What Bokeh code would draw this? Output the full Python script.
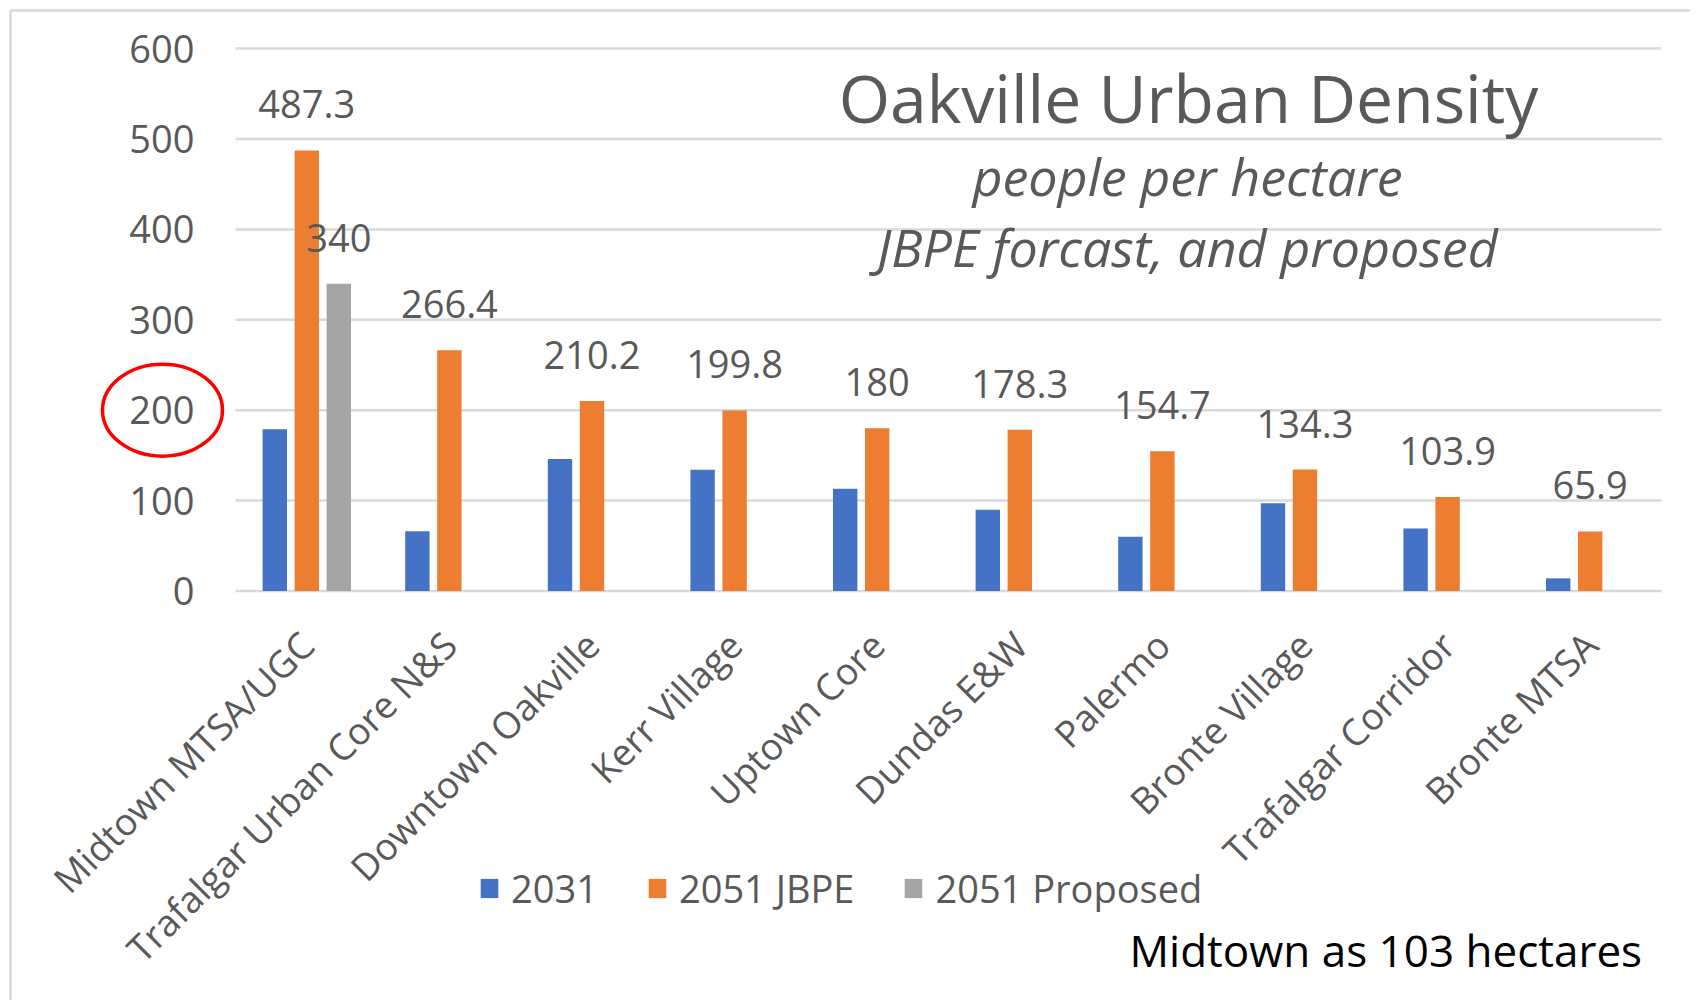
import math
from bokeh.plotting import figure
from bokeh.models import (Range1d, ColumnDataSource, LabelSet, Legend, LegendItem)
from bokeh.core.properties import value
from bokeh.embed import file_html
from bokeh.resources import INLINE

# ---- data ----
categories = ["Midtown MTSA/UGC", "Trafalgar Urban Core N&S", "Downtown Oakville",
              "Kerr Village", "Uptown Core", "Dundas E&W", "Palermo",
              "Bronte Village", "Trafalgar Corridor", "Bronte MTSA"]
values_2031 = [179, 66, 146, 134, 113, 90, 60, 97, 69, 14]
values_2051_jbpe = [487.3, 266.4, 210.2, 199.8, 180, 178.3, 154.7, 134.3, 103.9, 65.9]
values_2051_proposed = [340, None, None, None, None, None, None, None, None, None]
y_ticks = [0, 100, 200, 300, 400, 500, 600]
y_tick_labels = ["0", "100", "200", "300", "400", "500", "600"]
highlight_tick = 200

series_names = ["2031", "2051 JBPE", "2051 Proposed"]
colors = ["#4472C4", "#ED7D31", "#A5A5A5"]
TXT = "#595959"
FONT = "Open Sans"
AX = "38px"

# ---- geometry: the plot frame covers the whole canvas ----
W, H = 1690, 1000
PX_LEFT, PX_PER_CAT = 235.0, 142.6      # pixel x of category axis start, px per category
PY_ZERO, PX_PER_UNIT = 590.5, 0.904     # pixel y of value 0, px per value unit


def xdata(px):
    return (px - PX_LEFT) / PX_PER_CAT


def ydata(py):
    return (PY_ZERO - py) / PX_PER_UNIT


p = figure(width=W, height=H,
           x_range=Range1d(xdata(0), xdata(W)), y_range=Range1d(ydata(H), ydata(0)),
           output_backend="svg", toolbar_location=None,
           x_axis_location=None, y_axis_location=None,
           min_border=0, min_border_left=0, min_border_right=0,
           min_border_top=0, min_border_bottom=0)
p.outline_line_color = None
p.grid.visible = False
p.background_fill_color = "white"
p.border_fill_color = "white"

n = len(categories)

# gridlines at the tick values across the category span
p.segment(x0=[0] * len(y_ticks), x1=[n] * len(y_ticks), y0=y_ticks, y1=y_ticks,
          line_color="#D9D9D9", line_width=2.5)

# y tick labels
p.add_layout(LabelSet(x="x", y="y", text="t",
                      source=ColumnDataSource(dict(x=[0] * len(y_ticks), y=y_ticks, t=y_tick_labels)),
                      x_offset=-41, text_align="right", text_baseline="middle",
                      text_font=value(FONT), text_font_size=value(AX), text_color=value(TXT)))

offsets = [-0.2244, 0.0, 0.2244]
bar_w = 0.171
centers = [i + 0.5 for i in range(n)]

renderers = []
for k, vals in enumerate([values_2031, values_2051_jbpe, values_2051_proposed]):
    xs = [c + offsets[k] for c, v in zip(centers, vals) if v is not None]
    ys = [v for v in vals if v is not None]
    src = ColumnDataSource(dict(x=xs, top=ys))
    r = p.vbar(x="x", top="top", width=bar_w, bottom=0, source=src,
               fill_color=colors[k], line_color=None)
    renderers.append(r)

# data labels (2051 JBPE and Proposed)
lab_x = [c + offsets[1] for c in centers] + \
        [c + offsets[2] for c, v in zip(centers, values_2051_proposed) if v is not None]
lab_y = values_2051_jbpe + [v for v in values_2051_proposed if v is not None]
lab_t = [("%g" % v) for v in lab_y]
p.add_layout(LabelSet(x="x", y="y", text="t", source=ColumnDataSource(dict(x=lab_x, y=lab_y, t=lab_t)),
                      y_offset=32, text_align="center", text_baseline="alphabetic",
                      text_font=value(FONT), text_font_size=value(AX), text_color=value(TXT)))

# rotated category labels
p.add_layout(LabelSet(x="x", y="y", text="t",
                      source=ColumnDataSource(dict(x=centers, y=[0] * n, t=categories)),
                      x_offset=0, y_offset=-47, angle=math.pi / 4,
                      text_align="right", text_baseline="middle",
                      text_font=value(FONT), text_font_size=value("37px"), text_color=value(TXT)))


def add_text(txt, px, py, size, color=TXT, style="normal", align="center"):
    src = ColumnDataSource(dict(x=[xdata(px)], y=[ydata(py)], t=[txt]))
    p.add_layout(LabelSet(x="x", y="y", text="t", source=src,
                          text_align=align, text_baseline="alphabetic",
                          text_font=value(FONT), text_font_size=value(size),
                          text_font_style=value(style), text_color=value(color)))


add_text("Oakville Urban Density", 1188, 122, "66px")
add_text("people per hectare", 1187, 195, "52px", style="italic")
add_text("JBPE forcast, and proposed", 1187, 266, "52px", style="italic")
add_text("Midtown as 103 hectares", 1129, 966, "44px", color="black", align="left")

# legend
legend = Legend(items=[LegendItem(label=nm, renderers=[r]) for nm, r in zip(series_names, renderers)],
                orientation="horizontal", location=(478, 86),
                glyph_width=22, glyph_height=24, label_standoff=11, spacing=48,
                padding=0, margin=0, border_line_color=None, background_fill_alpha=0,
                label_text_font=FONT, label_text_font_size=AX, label_text_color=TXT)
p.add_layout(legend)

# red ellipse around the highlighted tick label
p.ellipse(x=[xdata(162)], y=[highlight_tick], width=120 / PX_PER_CAT, height=92 / PX_PER_UNIT,
          fill_alpha=0, line_color="#FF0000", line_width=3.5)

# chart-area border (left and top)
bx, by = xdata(10), ydata(10)
p.line(x=[bx, bx, xdata(W + 10)], y=[ydata(H + 10), by, by], line_color="#D9D9D9", line_width=2.5)

open("out.html", "w").write(file_html(p, INLINE))
